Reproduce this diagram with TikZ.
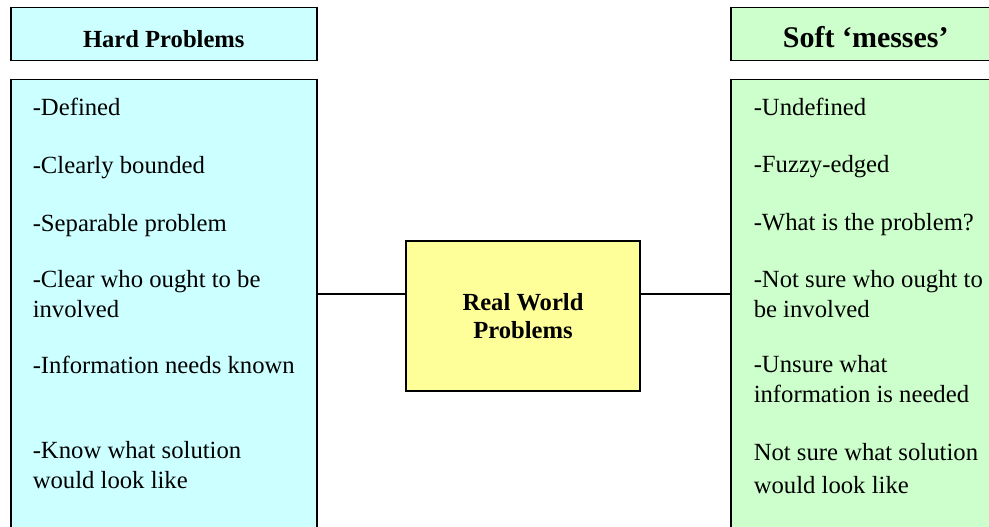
\documentclass[tikz,border=0pt]{standalone}
\usepackage{fontspec}
\setmainfont{Liberation Serif}
\usetikzlibrary{positioning}

\definecolor{hardfill}{HTML}{CCFFFF}
\definecolor{softfill}{HTML}{CCFFCC}
\definecolor{realfill}{HTML}{FFFF99}

\begin{document}
\begin{tikzpicture}[x=1pt, y=-1pt, line width=1.5pt,
  headbox/.style={draw, rectangle, anchor=north west, inner sep=0pt,
    minimum height=53pt, text height=27pt, text depth=0pt, font=\bfseries},
  listbox/.style={draw, rectangle, anchor=north west, inner sep=0pt},
  item/.style={anchor=base west, inner sep=0pt, font=\fontsize{24.7}{29}\selectfont}]
  \useasboundingbox (0,0) rectangle (989,527);
  \clip (0,0) rectangle (989,527);

  % headers
  \node[headbox, fill=hardfill, minimum width=306pt, font=\bfseries\fontsize{24.6}{28}\selectfont]
    (hardhead) at (10,7) {Hard Problems};
  \node[headbox, fill=softfill, minimum width=270pt, font=\bfseries\fontsize{30}{34}\selectfont]
    (softhead) at (730,7) {Soft `messes'};

  % list boxes
  \node[listbox, fill=hardfill, minimum width=306pt, minimum height=480pt] (hardlist) at (10,79) {};
  \node[listbox, fill=softfill, minimum width=270pt, minimum height=480pt] (softlist) at (730,79) {};

  \foreach \yy/\txt [count=\i] in {115/-Defined, 173/-Clearly bounded, 231/-Separable problem,
      287/-Clear who ought to be, 317/involved, 373/-Information needs known,
      458/-Know what solution, 488/would look like}
    \node[item] (hard-\i) at (32,\yy) {\txt};

  \foreach \yy/\txt [count=\i] in {115/-Undefined, 172/-Fuzzy-edged, 230/-What is the problem?,
      287/-Not sure who ought to, 317/be involved, 372/-Unsure what,
      402/information is needed, 460/Not sure what solution, 493/would look like}
    \node[item] (soft-\i) at (753,\yy) {\txt};

  % centre box
  \node[draw, rectangle, fill=realfill, minimum width=234pt, minimum height=150pt,
    align=center, font=\bfseries\fontsize{24.6}{28}\selectfont] (real) at (523,316)
    {Real World\\Problems};

  \coordinate (joinL) at ([yshift=22pt]real.west);
  \coordinate (joinR) at ([yshift=22pt]real.east);
  \draw (joinL) -- (joinL -| hardlist.east);
  \draw (joinR) -- (joinR -| softlist.west);
\end{tikzpicture}
\end{document}
